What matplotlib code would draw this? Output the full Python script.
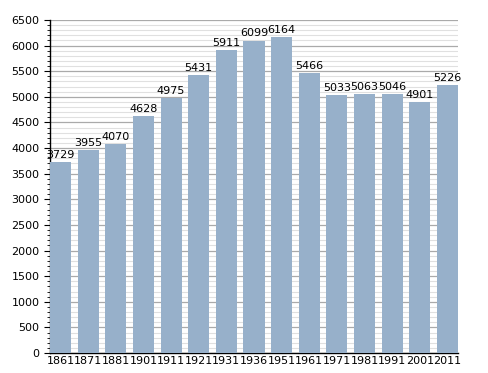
import matplotlib
matplotlib.use("Agg")
import matplotlib.pyplot as plt
from matplotlib.ticker import MultipleLocator

years = ["1861", "1871", "1881", "1901", "1911", "1921", "1931", "1936", "1951",
         "1961", "1971", "1981", "1991", "2001", "2011"]
population = [3729, 3955, 4070, 4628, 4975, 5431, 5911, 6099, 6164,
              5466, 5033, 5063, 5046, 4901, 5226]

fig = plt.figure(figsize=(4.88, 3.73), dpi=100)
ax = fig.add_axes([50/488, 20/373, 408/488, 333/373])

w = 0.76
x = list(range(len(years)))
ax.bar(x, population, width=w, color="#97b0ca", zorder=3)
for xi, v in zip(x, population):
    ax.text(xi, v + 40, str(v), ha="center", va="bottom", fontsize=8, zorder=4)

ax.set_xlim(-w/2, len(years) - 1 + w/2)
ax.set_ylim(0, 6500)
ax.yaxis.set_major_locator(MultipleLocator(500))
ax.yaxis.set_minor_locator(MultipleLocator(100))
ax.grid(which="major", axis="y", color="#aaaaaa", linewidth=0.9, zorder=1)
ax.grid(which="minor", axis="y", color="#e0e0e0", linewidth=0.8, zorder=0)
ax.set_xticks(x)
ax.set_xticklabels(years, fontsize=8)
ax.tick_params(axis="y", labelsize=8, length=4, width=0.8, direction="out")
ax.tick_params(axis="y", which="minor", length=2, width=0.6)
ax.tick_params(axis="x", length=0, pad=2)
for s in ["top", "right"]:
    ax.spines[s].set_visible(False)
ax.spines["left"].set_linewidth(1)
ax.spines["bottom"].set_linewidth(1)

fig.savefig("out.png", dpi=100)
